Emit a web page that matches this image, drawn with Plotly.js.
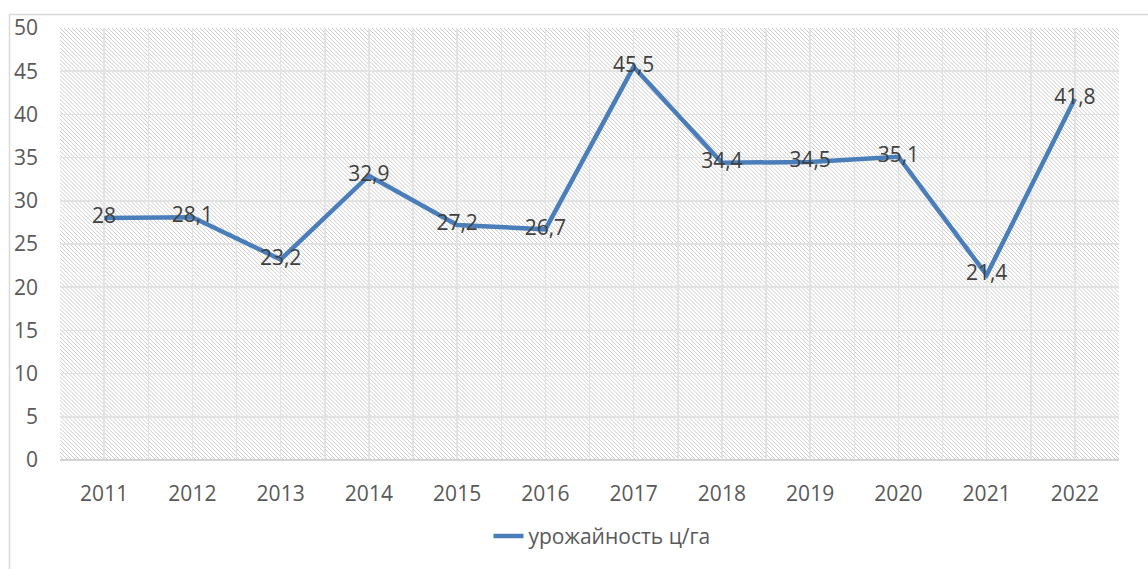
<!DOCTYPE html>
<html>
<head>
<meta charset="utf-8">
<script src="https://cdn.plot.ly/plotly-3.0.1.min.js"></script>
<style>
html,body{margin:0;padding:0;background:#fff;overflow:hidden;}
#chart{width:1148px;height:569px;}
</style>
</head>
<body>
<div id="chart"></div>
<script>
const years = [2011, 2012, 2013, 2014, 2015, 2016, 2017, 2018, 2019, 2020, 2021, 2022];
const yieldValues = [28, 28.1, 23.2, 32.9, 27.2, 26.7, 45.5, 34.4, 34.5, 35.1, 21.4, 41.8];
const seriesName = 'урожайность ц/га';
const yTicks = [0, 5, 10, 15, 20, 25, 30, 35, 40, 45, 50];

const labels = yieldValues.map(v => String(v).replace('.', ','));

const W = 1148, H = 569;
const M = {l: 60, r: 29, t: 28, b: 105};
const PW = W - M.l - M.r, PH = H - M.t - M.b;

// hatched background pattern (decoration)
const svg = `<svg xmlns="http://www.w3.org/2000/svg" width="${PW}" height="${PH}">` +
  `<defs><pattern id="p" width="4" height="4" patternUnits="userSpaceOnUse">` +
  `<path d="M-1,-1 L5,5 M-1,3 L1,5 M3,-1 L5,1" stroke="#cccccc" stroke-width="1"/></pattern></defs>` +
  `<rect width="100%" height="100%" fill="#ffffff"/><rect width="100%" height="100%" fill="url(#p)"/></svg>`;
const bgSrc = 'data:image/svg+xml;charset=utf-8,' + encodeURIComponent(svg);

const px2x = p => (p - M.l) / PW;
const px2y = p => (H - M.b - p) / PH;

const FONT = 'Open Sans, sans-serif';

const trace = {
  type: 'scatter',
  mode: 'lines+text',
  x: years,
  y: yieldValues,
  name: seriesName,
  text: labels,
  textposition: 'middle center',
  textfont: {family: FONT, size: 21, color: '#404040'},
  line: {color: '#4A7EBB', width: 4.5},
  cliponaxis: false,
  hoverinfo: 'x+y'
};

const gridColor = '#e3e3e3';

const layout = {
  width: W, height: H,
  margin: M,
  paper_bgcolor: '#ffffff',
  plot_bgcolor: 'rgba(0,0,0,0)',
  font: {family: FONT, size: 21, color: '#595959'},
  showlegend: true,
  legend: {
    orientation: 'h',
    x: px2x(602), xanchor: 'center',
    y: px2y(541), yanchor: 'middle',
    font: {family: FONT, size: 21, color: '#595959'},
    bgcolor: 'rgba(0,0,0,0)'
  },
  xaxis: {
    type: 'linear',
    range: [2010.5, 2022.5],
    tickmode: 'array',
    tickvals: years,
    ticktext: years.map(String),
    showgrid: true,
    gridcolor: gridColor,
    gridwidth: 1.5,
    minor: {dtick: 0.5, tick0: 2010.5, showgrid: true, gridcolor: gridColor, gridwidth: 1.5},
    zeroline: false,
    showline: false,
    ticks: '',
    ticklabelstandoff: 19,
    fixedrange: true
  },
  yaxis: {
    range: [0, 50],
    tickmode: 'array',
    tickvals: yTicks,
    ticktext: yTicks.map(String),
    showgrid: true,
    gridcolor: gridColor,
    gridwidth: 1.5,
    zeroline: false,
    showline: false,
    ticks: '',
    ticklabelstandoff: 21,
    fixedrange: true
  },
  images: [{
    source: bgSrc,
    xref: 'paper', yref: 'paper',
    x: 0, y: 1, sizex: 1, sizey: 1,
    xanchor: 'left', yanchor: 'top',
    sizing: 'stretch',
    layer: 'below'
  }],
  shapes: [
    {type: 'line', xref: 'paper', yref: 'paper', x0: 0, x1: 1, y0: 0, y1: 0,
     line: {color: '#d4d4d4', width: 2}, layer: 'above'},
    {type: 'line', xref: 'paper', yref: 'paper', x0: px2x(9.5), x1: px2x(9.5), y0: px2y(14), y1: px2y(580),
     line: {color: '#d9d9d9', width: 1.5}},
    {type: 'line', xref: 'paper', yref: 'paper', x0: px2x(9.5), x1: px2x(1160), y0: px2y(14.5), y1: px2y(14.5),
     line: {color: '#d9d9d9', width: 1.5}}
  ]
};

Plotly.newPlot('chart', [trace], layout, {displayModeBar: false, staticPlot: true});
</script>
</body>
</html>
